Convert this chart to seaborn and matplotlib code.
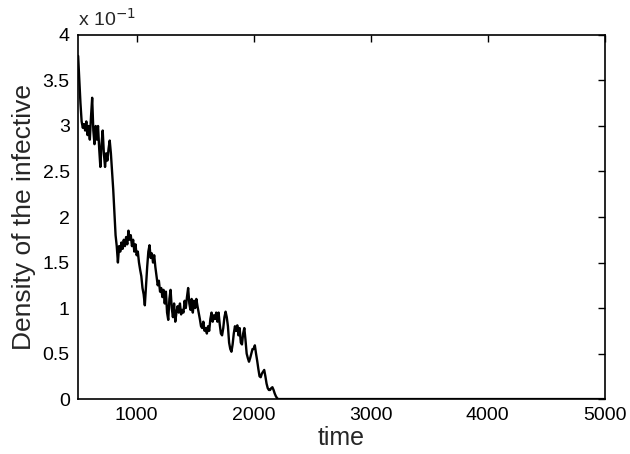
import matplotlib
matplotlib.use("Agg")
import matplotlib.pyplot as plt
import seaborn as sns
import pandas as pd
from matplotlib.ticker import FuncFormatter, MultipleLocator

# time (x) and density of the infective (y, actual units)
time = [500, 510, 520, 530, 540, 550, 560, 570, 580, 590,
        600, 610, 620, 630, 640, 650, 660, 670, 680, 690,
        700, 710, 720, 730, 740, 750, 760, 770, 780, 790,
        800, 810, 820, 830, 840, 850, 860, 870, 880, 890,
        900, 910, 920, 930, 940, 950, 960, 970, 980, 990,
        1000, 1010, 1020, 1030, 1040, 1050, 1060, 1070, 1080, 1090,
        1100, 1110, 1120, 1130, 1140, 1150, 1160, 1170, 1180, 1190,
        1200, 1210, 1220, 1230, 1240, 1250, 1260, 1270, 1280, 1290,
        1300, 1310, 1320, 1330, 1340, 1350, 1360, 1370, 1380, 1390,
        1400, 1410, 1420, 1430, 1440, 1450, 1460, 1470, 1480, 1490,
        1500, 1510, 1520, 1530, 1540, 1550, 1560, 1570, 1580, 1590,
        1600, 1610, 1620, 1630, 1640, 1650, 1660, 1670, 1680, 1690,
        1700, 1710, 1720, 1730, 1740, 1750, 1760, 1770, 1780, 1790,
        1800, 1810, 1820, 1830, 1840, 1850, 1860, 1870, 1880, 1890,
        1900, 1910, 1920, 1930, 1940, 1950, 1960, 1970, 1980, 1990,
        2000, 2010, 2020, 2030, 2040, 2050, 2060, 2070, 2080, 2090,
        2100, 2110, 2120, 2130, 2140, 2150, 2160, 2170, 2180, 2190,
        2200, 2210, 5000]

density = [0.377, 0.350, 0.325, 0.305, 0.298, 0.302, 0.295, 0.305, 0.290, 0.300,
           0.285, 0.310, 0.331, 0.295, 0.280, 0.300, 0.285, 0.300, 0.275, 0.255,
           0.280, 0.295, 0.270, 0.255, 0.270, 0.262, 0.275, 0.284, 0.270, 0.250,
           0.230, 0.205, 0.180, 0.168, 0.150, 0.168, 0.162, 0.172, 0.165, 0.175,
           0.168, 0.178, 0.170, 0.185, 0.175, 0.180, 0.168, 0.175, 0.162, 0.170,
           0.158, 0.162, 0.150, 0.142, 0.135, 0.122, 0.115, 0.103, 0.125, 0.145,
           0.162, 0.169, 0.155, 0.160, 0.150, 0.158, 0.145, 0.135, 0.125, 0.130,
           0.118, 0.122, 0.112, 0.120, 0.105, 0.118, 0.095, 0.087, 0.110, 0.120,
           0.100, 0.090, 0.105, 0.085, 0.095, 0.102, 0.095, 0.105, 0.093, 0.098,
           0.095, 0.108, 0.100, 0.112, 0.122, 0.105, 0.098, 0.110, 0.095, 0.108,
           0.100, 0.110, 0.102, 0.095, 0.088, 0.080, 0.078, 0.085, 0.075, 0.078,
           0.072, 0.080, 0.075, 0.088, 0.095, 0.085, 0.092, 0.088, 0.095, 0.085,
           0.095, 0.082, 0.072, 0.070, 0.078, 0.090, 0.096, 0.090, 0.080, 0.062,
           0.055, 0.052, 0.060, 0.072, 0.080, 0.075, 0.081, 0.070, 0.078, 0.062,
           0.060, 0.072, 0.078, 0.065, 0.050, 0.045, 0.041, 0.045, 0.050, 0.055,
           0.055, 0.059, 0.050, 0.042, 0.033, 0.025, 0.024, 0.028, 0.030, 0.032,
           0.025, 0.017, 0.012, 0.010, 0.010, 0.012, 0.013, 0.010, 0.006, 0.003,
           0.001, 0.000, 0.000]

x_ticks = [1000, 2000, 3000, 4000, 5000]

sns.set_theme(style="white")
plt.rcParams["font.family"] = ["Liberation Sans", "DejaVu Sans"]

df = pd.DataFrame({"time": time, "density": density})

fig = plt.figure(figsize=(6.3, 4.54), dpi=100)
ax = fig.add_axes([0.124, 0.121, 0.836, 0.802])

sns.lineplot(data=df, x="time", y="density", ax=ax, color="black",
             linewidth=1.7, estimator=None, sort=False)

ax.set_xlim(500, 5000)
ax.set_ylim(0, 0.4)
ax.set_xticks(x_ticks)
ax.yaxis.set_major_locator(MultipleLocator(0.05))

def yfmt(v, pos):
    s = f"{v * 10:.1f}"
    if s.endswith(".0"):
        s = s[:-2]
    return s

ax.yaxis.set_major_formatter(FuncFormatter(yfmt))
ax.tick_params(direction="in", length=5, width=1, top=True, right=True,
               labelsize=14, colors="black", pad=6)
for sp in ax.spines.values():
    sp.set_color("black")
    sp.set_linewidth(1.2)

ax.set_xlabel("time", fontsize=18, labelpad=1)
ax.set_ylabel("Density of the infective", fontsize=19, labelpad=5)
ax.text(0.0, 1.015, r"x 10$^{-1}$", transform=ax.transAxes, fontsize=14,
        ha="left", va="bottom")

fig.savefig("out.png", dpi=100)
